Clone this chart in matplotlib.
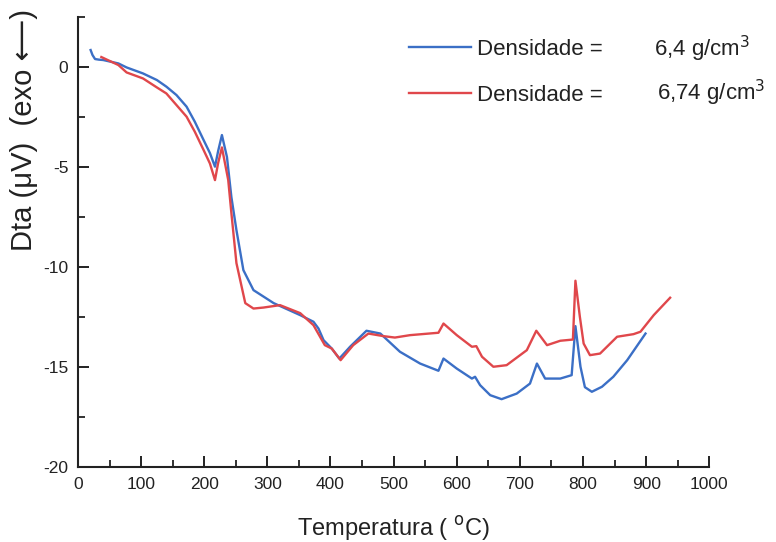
import matplotlib
matplotlib.use("Agg")
import matplotlib.pyplot as plt
from matplotlib.ticker import MultipleLocator

plt.rcParams['font.family'] = ['Liberation Sans', 'DejaVu Sans']
plt.rcParams['axes.unicode_minus'] = False

# DTA curves (temperature in degC, signal in uV)
blue_T = [20, 23, 27, 33, 40, 64, 77, 103, 125, 140, 156, 172, 185, 199, 209, 217, 222,
          228, 236, 243, 251, 262, 278, 310, 352, 373, 381, 389, 402, 414, 431, 457, 479,
          510, 542, 571, 579, 600, 624, 629, 637, 653, 671, 695, 716, 727, 740, 764, 782,
          788, 796, 803, 814, 830, 848, 870, 899]
blue_V = [0.85, 0.6, 0.4, 0.37, 0.35, 0.18, -0.02, -0.32, -0.65, -0.98, -1.4, -1.98,
          -2.73, -3.65, -4.3, -4.98, -4.2, -3.4, -4.5, -6.5, -8.15, -10.15, -11.15, -11.8,
          -12.4, -12.73, -13.07, -13.65, -14.07, -14.57, -13.98, -13.18, -13.32, -14.23,
          -14.82, -15.18, -14.57, -15.07, -15.57, -15.48, -15.9, -16.4, -16.6, -16.32,
          -15.82, -14.82, -15.57, -15.57, -15.4, -12.95, -14.98, -16.0, -16.23, -15.98,
          -15.48, -14.65, -13.32]

red_T = [37, 64, 77, 103, 125, 140, 156, 172, 185, 199, 209, 217, 222, 228, 238, 243,
         251, 265, 278, 294, 320, 352, 373, 391, 402, 416, 436, 460, 484, 502, 526, 571,
         579, 600, 624, 631, 640, 658, 679, 711, 726, 743, 764, 784, 788, 795, 801, 811,
         827, 854, 880, 891, 912, 938]
red_V = [0.5, 0.1, -0.27, -0.57, -1.02, -1.32, -1.9, -2.48, -3.23, -4.15, -4.82, -5.65,
         -4.8, -4.02, -5.65, -7.3, -9.8, -11.8, -12.07, -12.02, -11.9, -12.3, -12.9, -13.9,
         -14.07, -14.65, -13.9, -13.32, -13.45, -13.52, -13.4, -13.28, -12.82, -13.4,
         -13.98, -13.95, -14.48, -14.98, -14.9, -14.15, -13.18, -13.9, -13.68, -13.62,
         -10.68, -12.48, -13.82, -14.4, -14.32, -13.48, -13.35, -13.23, -12.4, -11.53]

densities = ["6,4 g/cm$^3$", "6,74 g/cm$^3$"]
colors = ["#3b6fc6", "#e0474b"]
ink = '#222222'

fig = plt.figure(figsize=(7.76, 5.42), dpi=100)
ax = fig.add_axes([0.1005, 0.138, 0.8135, 0.8306])

ax.plot(blue_T, blue_V, color=colors[0], linewidth=1.7, label="Densidade =")
ax.plot(red_T, red_V, color=colors[1], linewidth=1.7, label="Densidade =")

ax.set_xlim(0, 1000)
ax.set_ylim(-20, 2.5)
ax.xaxis.set_major_locator(MultipleLocator(100))
ax.xaxis.set_minor_locator(MultipleLocator(50))
ax.yaxis.set_major_locator(MultipleLocator(5))
ax.yaxis.set_minor_locator(MultipleLocator(2.5))

for side in ['top', 'right']:
    ax.spines[side].set_visible(False)
for side in ['left', 'bottom']:
    ax.spines[side].set_linewidth(1.5)
    ax.spines[side].set_color(ink)

ax.tick_params(which='major', direction='in', length=8, width=1.4, labelsize=12.5,
               pad=7, colors=ink)
ax.tick_params(which='minor', direction='in', length=5, width=1.3, colors=ink)

ax.set_xlabel("Temperatura ( $^{\\mathrm{o}}$C)", fontsize=17, labelpad=16, color=ink)
fig.text(24 / 776, 1 - 130 / 542, "Dta (\u03bcV)  (exo \u27f5)", rotation=90,
         ha='center', va='center', fontsize=21, color=ink)

leg = ax.legend(loc='upper left', bbox_to_anchor=(0.524, 0.951), frameon=False,
                fontsize=16, handlelength=2.8, handletextpad=0.25, labelspacing=1.12,
                borderpad=0, borderaxespad=0)
for t in leg.get_texts():
    t.set_color(ink)

ax.text(0.913, 0.913, densities[0], transform=ax.transAxes, ha='left', va='baseline',
        fontsize=16, color=ink, clip_on=False)
ax.text(0.918, 0.816, densities[1], transform=ax.transAxes, ha='left', va='baseline',
        fontsize=16, color=ink, clip_on=False)

fig.savefig("out.png", dpi=100)
